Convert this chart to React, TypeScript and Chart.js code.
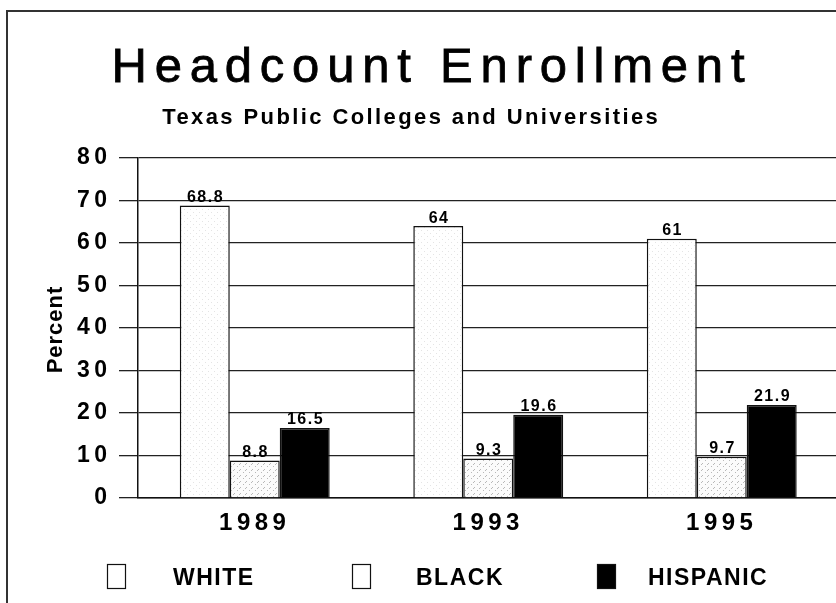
import React, { useEffect, useRef } from "react";
import { Chart, registerables } from "chart.js";

Chart.register(...registerables);

// ---- data ----
const categories = ["1989", "1993", "1995"];
const whiteValues = [68.8, 64, 61];
const blackValues = [8.8, 9.3, 9.7];
const hispanicValues = [16.5, 19.6, 21.9];
const seriesLabels = ["WHITE", "BLACK", "HISPANIC"];
const yTickValues = [0, 10, 20, 30, 40, 50, 60, 70, 80];
const yTickLabels = ["0", "10", "20", "30", "40", "50", "60", "70", "80"];
const titleText = "Headcount Enrollment";
const subtitleText = "Texas Public Colleges and Universities";
const yTitleText = "Percent";

// ---- style ----
const FONT = "'Liberation Sans', Arial, Helvetica, sans-serif";
const legendBoxX = [107, 352, 597];
const legendTextX = [173, 416, 648];

function stipple(base: string, dot: string, pts: number[][]) {
  const c = document.createElement("canvas");
  c.width = 6;
  c.height = 6;
  const g = c.getContext("2d")!;
  g.fillStyle = base;
  g.fillRect(0, 0, 6, 6);
  g.fillStyle = dot;
  for (const [x, y] of pts) g.fillRect(x, y, 1, 1);
  return g.createPattern(c, "repeat")!;
}

export default function App() {
  const ref = useRef<HTMLCanvasElement | null>(null);

  useEffect(() => {
    const canvas = ref.current!;
    const whiteFill = stipple("#ffffff", "#e4e4e4", [[1, 2], [4, 5]]);
    const blackFill = stipple("#fbfbfb", "#b8b8b8", [[0, 1], [3, 4], [5, 2]]);
    const fills: any[] = [whiteFill, blackFill, "#000000"];
    const legendFills: any[] = ["#ffffff", "#ffffff", "#000000"];

    const spacedText = (ctx: CanvasRenderingContext2D, text: string, x: number, y: number, spacing: number, align: "left" | "center", stroke = 0) => {
      ctx.letterSpacing = spacing + "px";
      const w = ctx.measureText(text).width - spacing;
      const sx = align === "center" ? x - w / 2 : x;
      ctx.textAlign = "left";
      ctx.fillText(text, sx, y);
      if (stroke > 0) {
        ctx.lineWidth = stroke;
        ctx.strokeStyle = ctx.fillStyle as string;
        ctx.strokeText(text, sx, y);
      }
    };

    const decor = {
      id: "decor",
      beforeUpdate(chart: any) {
        chart.ctx.letterSpacing = "4.5px";
      },
      beforeDraw(chart: any) {
        chart.ctx.letterSpacing = "4.5px";
      },
      afterDatasetsDraw(chart: any) {
        const ctx: CanvasRenderingContext2D = chart.ctx;
        ctx.save();
        ctx.fillStyle = "#000";
        ctx.font = `bold 16px ${FONT}`;
        ctx.textBaseline = "alphabetic";
        chart.data.datasets.forEach((ds: any, di: number) => {
          const meta = chart.getDatasetMeta(di);
          meta.data.forEach((bar: any, i: number) => {
            spacedText(ctx, String(ds.data[i]), bar.x, bar.y - 3.5, 1.5, "center");
          });
        });
        ctx.restore();
      },
      afterDraw(chart: any) {
        const ctx: CanvasRenderingContext2D = chart.ctx;
        ctx.save();
        // frame
        ctx.strokeStyle = "#333";
        ctx.lineWidth = 2;
        ctx.beginPath();
        ctx.moveTo(7, 603);
        ctx.lineTo(7, 11);
        ctx.lineTo(841, 11);
        ctx.stroke();

        ctx.fillStyle = "#000";
        ctx.textBaseline = "alphabetic";
        // title
        ctx.font = `49px ${FONT}`;
        spacedText(ctx, titleText, 428, 82, 7.8, "center", 0.8);
        // subtitle
        ctx.font = `bold 22px ${FONT}`;
        spacedText(ctx, subtitleText, 410, 124, 2.4, "center");
        // y title
        ctx.save();
        ctx.translate(62, 330);
        ctx.rotate(-Math.PI / 2);
        ctx.font = `bold 22px ${FONT}`;
        spacedText(ctx, yTitleText, 0, 0, 1, "center");
        ctx.restore();
        // legend
        ctx.font = `bold 23px ${FONT}`;
        chart.data.datasets.forEach((ds: any, i: number) => {
          ctx.fillStyle = legendFills[i];
          ctx.fillRect(legendBoxX[i], 564, 19, 25);
          ctx.strokeStyle = "#111";
          ctx.lineWidth = 1.2;
          ctx.strokeRect(legendBoxX[i] + 0.5, 564.5, 18, 24);
          ctx.fillStyle = "#000";
          spacedText(ctx, ds.label, legendTextX[i], 585, 1.5, "left");
        });
        ctx.restore();
      },
    };

    const chart = new Chart(canvas, {
      type: "bar",
      data: {
        labels: categories,
        datasets: [whiteValues, blackValues, hispanicValues].map((vals, i) => ({
          label: seriesLabels[i],
          data: vals,
          backgroundColor: fills[i],
          borderColor: "#111",
          borderWidth: 1.5,
          categoryPercentage: 0.642,
          barPercentage: 1,
        })),
      },
      options: {
        animation: false,
        responsive: false,
        maintainAspectRatio: false,
        layout: { padding: { top: 158, left: 0, right: 2.5, bottom: 0 } },
        plugins: {
          legend: { display: false },
          title: { display: false },
          tooltip: { enabled: false },
        },
        scales: {
          x: {
            grid: { display: false, drawTicks: false },
            border: { display: true, color: "#111", width: 1.5 },
            ticks: {
              color: "#000",
              font: { family: FONT, size: 24, weight: "bold" },
              padding: 11,
              maxRotation: 0,
            },
            afterFit: (s: any) => {
              s.height = 105;
            },
          },
          y: {
            min: 0,
            max: 80,
            afterBuildTicks: (s: any) => {
              s.ticks = yTickValues.map((v) => ({ value: v }));
            },
            ticks: {
              color: "#000",
              font: { family: FONT, size: 23, weight: "bold" },
              padding: 7.5,
              callback: (v: any) => yTickLabels[yTickValues.indexOf(Number(v))] ?? "",
            },
            grid: { color: "#222", lineWidth: 1.3, tickLength: 19, drawTicks: true, tickColor: "#222" },
            border: { display: true, color: "#111", width: 1.5 },
            afterFit: (s: any) => {
              s.width = 138;
            },
          },
        },
      },
      plugins: [decor as any],
    });
    return () => chart.destroy();
  }, []);

  return (
    <div style={{ position: "absolute", left: 0, top: 0, width: 836, height: 603, overflow: "hidden", background: "#fff" }}>
      <canvas ref={ref} width={841} height={603} style={{ width: 841, height: 603, display: "block" }} />
    </div>
  );
}
